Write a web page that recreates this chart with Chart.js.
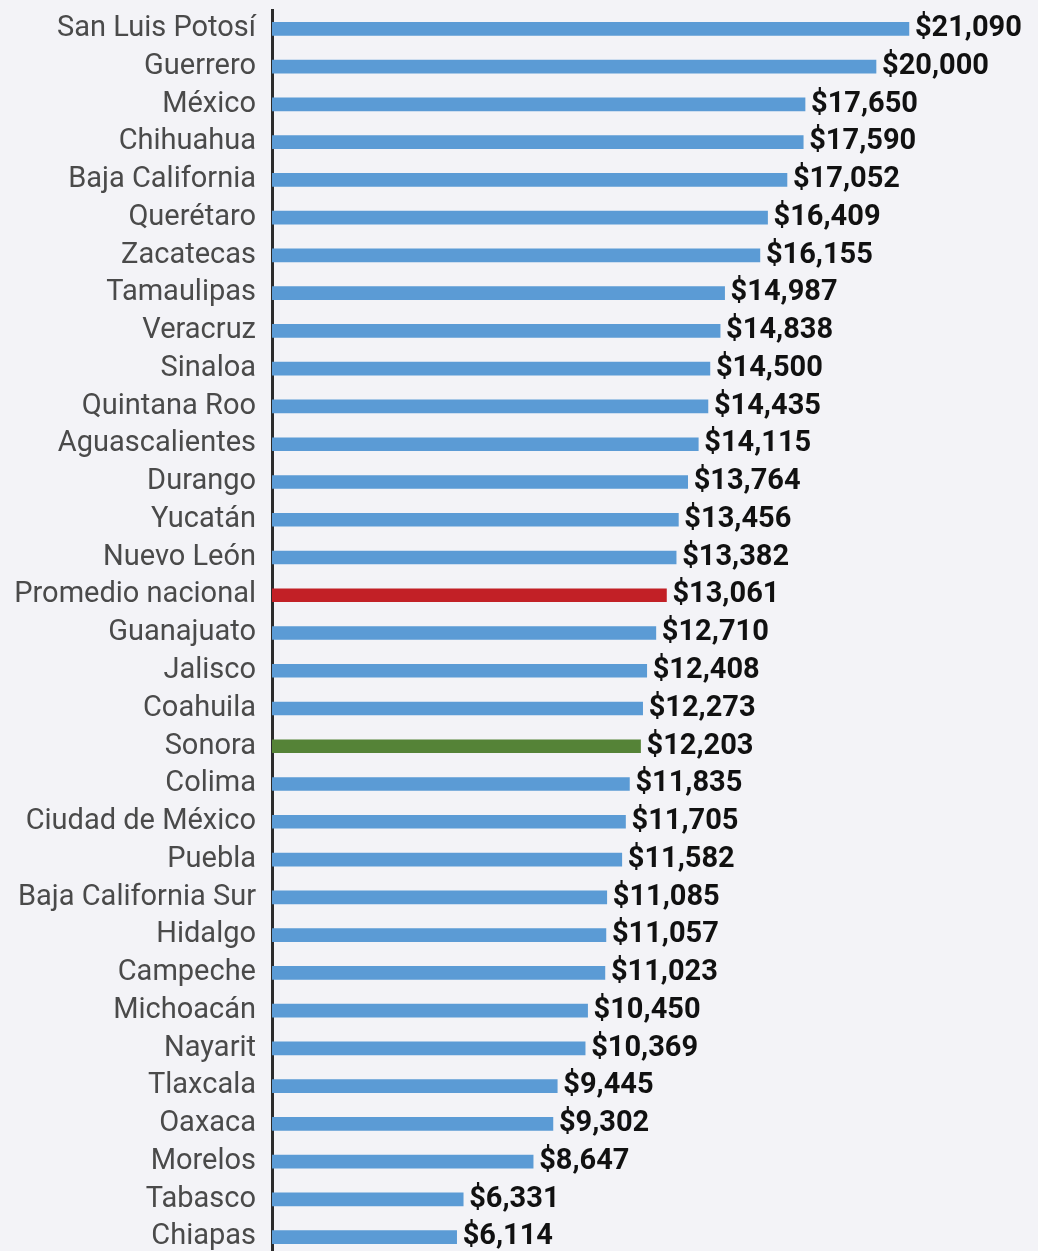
<!DOCTYPE html>
<html lang="es">
<head>
<meta charset="utf-8">
<title>Salario por estado</title>
<script src="https://cdn.jsdelivr.net/npm/chart.js@4"></script>
<style>
  html, body { margin: 0; padding: 0; background: #f3f3f7; overflow: hidden; }
  canvas { display: block; }
</style>
</head>
<body>
<canvas id="chart" width="1038" height="1262"></canvas>
<script>
const estados = [
  'San Luis Potosí', 'Guerrero', 'México', 'Chihuahua', 'Baja California',
  'Querétaro', 'Zacatecas', 'Tamaulipas', 'Veracruz', 'Sinaloa',
  'Quintana Roo', 'Aguascalientes', 'Durango', 'Yucatán', 'Nuevo León',
  'Promedio nacional', 'Guanajuato', 'Jalisco', 'Coahuila', 'Sonora',
  'Colima', 'Ciudad de México', 'Puebla', 'Baja California Sur', 'Hidalgo',
  'Campeche', 'Michoacán', 'Nayarit', 'Tlaxcala', 'Oaxaca',
  'Morelos', 'Tabasco', 'Chiapas'
];

const montos = [
  21090, 20000, 17650, 17590, 17052,
  16409, 16155, 14987, 14838, 14500,
  14435, 14115, 13764, 13456, 13382,
  13061, 12710, 12408, 12273, 12203,
  11835, 11705, 11582, 11085, 11057,
  11023, 10450, 10369, 9445, 9302,
  8647, 6331, 6114
];

const AZUL = '#5b9bd5';
const ROJO = '#c22026';
const VERDE = '#558337';

const colores = estados.map(e => {
  if (e === 'Promedio nacional') return ROJO;
  if (e === 'Sonora') return VERDE;
  return AZUL;
});

const formato = v => '$' + v.toLocaleString('en-US');

// escribe el monto a la derecha de cada barra
const etiquetasValor = {
  id: 'etiquetasValor',
  afterDatasetsDraw(chart) {
    const { ctx } = chart;
    const meta = chart.getDatasetMeta(0);
    ctx.save();
    ctx.font = 'bold 29px Roboto';
    ctx.fillStyle = '#111111';
    ctx.textAlign = 'left';
    ctx.textBaseline = 'middle';
    meta.data.forEach((bar, i) => {
      ctx.fillText(formato(montos[i]), bar.x + 6, bar.y);
    });
    ctx.restore();
  }
};

const ctx = document.getElementById('chart').getContext('2d');
new Chart(ctx, {
  type: 'bar',
  data: {
    labels: estados,
    datasets: [{
      data: montos,
      backgroundColor: colores,
      borderWidth: 0,
      barThickness: 13
    }]
  },
  options: {
    indexAxis: 'y',
    responsive: false,
    animation: false,
    layout: { padding: { top: 10, bottom: 6, right: 11, left: 0 } },
    plugins: {
      legend: { display: false },
      tooltip: { enabled: false }
    },
    scales: {
      x: {
        display: false,
        min: 0,
        max: 25000
      },
      y: {
        afterFit(scale) {
          // ancho fijo del eje y sin margen extra arriba/abajo
          scale.width = 272;
          scale.paddingTop = 0;
          scale.paddingBottom = 0;
        },
        grid: { display: false },
        border: { display: true, color: '#2b2b2b', width: 3 },
        ticks: {
          autoSkip: false,
          color: '#4a4a4a',
          padding: 8,
          font: { family: 'Roboto', size: 29 }
        }
      }
    }
  },
  plugins: [etiquetasValor]
});
</script>
</body>
</html>
